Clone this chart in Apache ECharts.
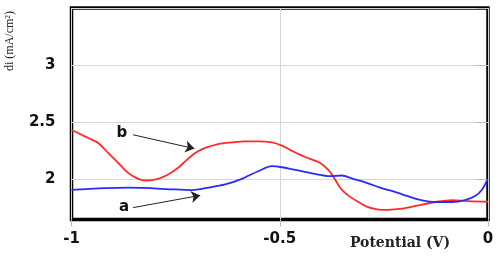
<!DOCTYPE html>
<html>
<head>
<meta charset="utf-8">
<script src="https://cdn.jsdelivr.net/npm/echarts@6/dist/echarts.min.js"></script>
<style>
  html, body { margin: 0; padding: 0; background: #fff; }
  #chart { width: 500px; height: 258px; }
</style>
</head>
<body>
<div id="chart"></div>
<script>
  // curve b (red)
  const potentialB = [-1, -0.992, -0.960, -0.936, -0.912, -0.888, -0.864, -0.840, -0.821, -0.792, -0.768, -0.744, -0.727, -0.703, -0.679, -0.648, -0.615, -0.583, -0.552, -0.519, -0.495, -0.476, -0.452, -0.427, -0.403, -0.384, -0.372, -0.355, -0.339, -0.315, -0.291, -0.266, -0.242, -0.206, -0.168, -0.127, -0.086, -0.048, 0];
  const currentB = [2.43, 2.42, 2.363, 2.319, 2.232, 2.145, 2.058, 2.006, 1.991, 2.006, 2.043, 2.102, 2.159, 2.232, 2.276, 2.31, 2.324, 2.333, 2.333, 2.324, 2.296, 2.261, 2.217, 2.18, 2.145, 2.087, 2.029, 1.928, 1.87, 1.811, 1.763, 1.739, 1.735, 1.745, 1.774, 1.803, 1.82, 1.811, 1.806];
  // curve a (blue)
  const potentialA = [-1, -0.864, -0.751, -0.711, -0.672, -0.631, -0.591, -0.552, -0.519, -0.495, -0.459, -0.420, -0.379, -0.351, -0.324, -0.291, -0.259, -0.235, -0.206, -0.168, -0.127, -0.086, -0.055, -0.031, -0.014, -0.002, 0];
  const currentA = [1.909, 1.928, 1.913, 1.907, 1.928, 1.957, 2.006, 2.072, 2.116, 2.107, 2.081, 2.052, 2.029, 2.035, 2.006, 1.971, 1.928, 1.904, 1.87, 1.826, 1.803, 1.803, 1.82, 1.855, 1.913, 1.994, 2.0];

  const yTicks = [2, 2.5, 3, 3.5];
  const yLabels = [2, 2.5, 3];

  // annotations
  const arrowB = [[-0.852, 2.391], [-0.705, 2.27]];
  const arrowA = [[-0.852, 1.754], [-0.691, 1.861]];
  const labelB = [-0.879, 2.409];
  const labelA = [-0.874, 1.757];

  const zip = (xs, ys) => xs.map((x, i) => [x, ys[i]]);

  const chart = echarts.init(document.getElementById('chart'));

  const arrow = (pts) => ({
    silent: true,
    symbol: ['none', 'arrow'],
    symbolSize: 9,
    lineStyle: { color: '#222', width: 1, type: 'solid' },
    label: { show: false },
    emphasis: { disabled: true },
    data: [[{ coord: pts[0] }, { coord: pts[1] }]]
  });

  const tag = (pt, txt) => ({
    silent: true,
    symbol: 'rect',
    symbolSize: 1,
    itemStyle: { color: 'rgba(0,0,0,0)' },
    label: {
      show: true,
      position: 'inside',
      formatter: txt,
      color: '#111',
      fontFamily: 'DejaVu Sans',
      fontWeight: 'bold',
      fontSize: 15
    },
    data: [{ coord: pt }]
  });

  const option = {
    animation: false,
    grid: {
      left: 71.5, right: 12, top: 8, bottom: 38.5,
      show: true, borderColor: '#000', borderWidth: 3.5
    },
    xAxis: {
      type: 'value',
      min: -1, max: 0, interval: 0.5,
      axisLine: { show: false },
      axisTick: { show: true, length: 7, lineStyle: { color: '#bbb' } },
      splitLine: { show: true, lineStyle: { color: '#d6d6d6' } },
      axisLabel: {
        margin: 12,
        color: '#111',
        fontFamily: 'DejaVu Sans',
        fontWeight: 'bold',
        fontSize: 15
      }
    },
    yAxis: {
      type: 'value',
      min: 1.65, max: 3.5,
      axisLine: { show: false },
      axisTick: { show: true, length: 12, customValues: yTicks, lineStyle: { color: '#bbb' } },
      splitLine: { show: true, lineStyle: { color: '#d6d6d6' } },
      axisLabel: {
        margin: 16,
        customValues: yLabels,
        color: '#111',
        fontFamily: 'DejaVu Sans',
        fontWeight: 'bold',
        fontSize: 15
      }
    },
    graphic: [
      {
        type: 'text', x: 10, y: 41, rotation: Math.PI / 2,
        style: {
          text: 'di (mA/cm²)', fill: '#222',
          font: '12px "Liberation Serif"',
          align: 'center', verticalAlign: 'middle'
        }
      },
      {
        type: 'text', x: 400, y: 243,
        style: {
          text: 'Potential (V)', fill: '#222',
          font: 'bold 14px "DejaVu Serif"',
          align: 'center', verticalAlign: 'middle'
        }
      }
    ],
    series: [
      {
        name: 'b',
        type: 'line',
        data: zip(potentialB, currentB),
        showSymbol: false,
        smooth: 0.3,
        lineStyle: { color: '#ff2a2a', width: 1.8 },
        markLine: arrow(arrowB),
        markPoint: tag(labelB, 'b')
      },
      {
        name: 'a',
        type: 'line',
        data: zip(potentialA, currentA),
        showSymbol: false,
        smooth: 0.3,
        lineStyle: { color: '#2a2aff', width: 1.8 },
        markLine: arrow(arrowA),
        markPoint: tag(labelA, 'a')
      }
    ]
  };

  chart.setOption(option);
</script>
</body>
</html>
